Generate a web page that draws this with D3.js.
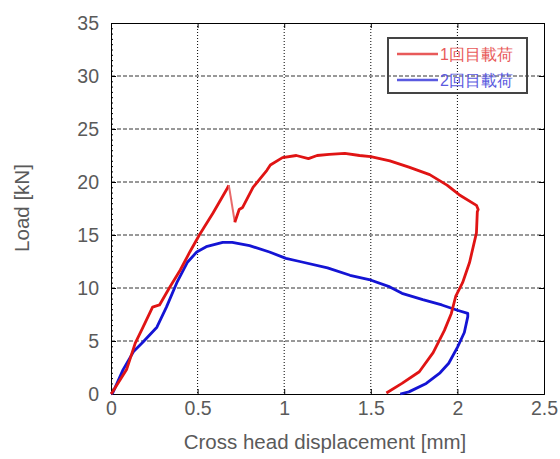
<!DOCTYPE html>
<html><head><meta charset="utf-8">
<script src="https://cdn.jsdelivr.net/npm/d3@7"></script>
<style>body{margin:0;background:#fff}svg{display:block}text{font-family:"Liberation Sans",Arial,sans-serif}</style>
</head><body><svg id="c" width="560" height="459"></svg>
<script>
const xTicks=[0,0.5,1,1.5,2,2.5];
const yTicks=[0,5,10,15,20,25,30,35];
const xTickLabels=["0","0.5","1","1.5","2","2.5"];
const yTickLabels=["0","5","10","15","20","25","30","35"];
const seriesNames=["1回目載荷","2回目載荷"];
// first loading: displacement [mm]
const load1X=[0,0.005,0.09,0.14,0.185,0.24,0.28,0.34,0.40,0.455,0.51,0.59,0.675,0.68];
const load1Y=[0,0.1,2.3,4.8,6.3,8.2,8.4,10.1,11.7,13.4,15.0,17.1,19.5,19.7];
// drop segment after first crack
const dropX=[0.68,0.715];
const dropY=[19.7,16.2];
const load1bX=[0.715,0.74,0.76,0.82,0.84,0.90,0.92,0.99,1.07,1.14,1.19,1.26,1.35,1.435,1.50,1.61,1.72,1.84,1.94,2.01,2.11,2.12,2.115,2.11,2.07,2.03,1.99,1.965,1.925,1.86,1.78,1.68,1.59];
const load1bY=[16.2,17.4,17.6,19.5,19.9,21.1,21.6,22.3,22.5,22.2,22.5,22.6,22.7,22.5,22.4,22.0,21.4,20.7,19.7,18.8,17.8,17.4,17.2,15.2,12.4,10.5,9.2,7.6,6.0,3.9,2.1,1.0,0.1];
// second loading
const load2X=[0,0.01,0.07,0.13,0.185,0.265,0.32,0.38,0.44,0.495,0.55,0.645,0.70,0.80,0.915,1.01,1.09,1.25,1.38,1.49,1.61,1.68,1.80,1.91,2.00,2.06,2.06,2.04,2.00,1.95,1.90,1.82,1.72,1.67];
const load2Y=[0,0.1,2.3,4.0,4.9,6.3,8.2,10.5,12.4,13.4,13.9,14.3,14.3,14.0,13.4,12.8,12.5,11.9,11.2,10.8,10.1,9.5,8.9,8.4,7.9,7.6,7.3,5.8,4.4,2.9,2.0,1.0,0.2,0.0];

const svg=d3.select("#c");
const L=111,R=544,T=23,B=394;
const x=d3.scaleLinear().domain([0,2.5]).range([L,R]);
const y=d3.scaleLinear().domain([0,35]).range([B,T]);
const grey="#5a5a5a";

// gridlines
svg.append("g").selectAll("line").data(yTicks.slice(1,-1)).join("line")
 .attr("x1",L).attr("x2",R).attr("y1",d=>y(d)).attr("y2",d=>y(d))
 .attr("stroke","#333").attr("stroke-width",1).attr("stroke-dasharray","4,2");
svg.append("g").selectAll("line").data(xTicks.slice(1,-1)).join("line")
 .attr("y1",T).attr("y2",B).attr("x1",d=>x(d)).attr("x2",d=>x(d))
 .attr("stroke","#000").attr("stroke-width",1).attr("stroke-dasharray","1,2");

// axes
const xa=svg.append("g").attr("transform",`translate(0,${B})`)
 .call(d3.axisBottom(x).tickValues(xTicks).tickFormat((d,i)=>xTickLabels[i]).tickSize(-5).tickPadding(7));
const ya=svg.append("g").attr("transform",`translate(${L},0)`)
 .call(d3.axisLeft(y).tickValues(yTicks).tickFormat((d,i)=>yTickLabels[i]).tickSize(-5).tickPadding(12));
svg.append("g").attr("transform",`translate(0,${T})`).call(d3.axisTop(x).tickValues(xTicks).tickFormat("").tickSize(-5));
svg.append("g").attr("transform",`translate(${R},0)`).call(d3.axisRight(y).tickValues(yTicks).tickFormat("").tickSize(-5));
// minor ticks on left
svg.append("g").attr("transform",`translate(${L},0)`).call(d3.axisLeft(y).ticks(70).tickFormat("").tickSize(-2));
svg.selectAll(".domain").attr("stroke","#000");
svg.selectAll(".tick line").attr("stroke","#000");
[xa,ya].forEach(a=>a.selectAll("text").attr("fill",grey).attr("font-size","19.5px"));

// curves
const line=d3.line().x(d=>x(d[0])).y(d=>y(d[1]));
const zip=(a,b)=>a.map((v,i)=>[v,b[i]]);
svg.append("path").datum(zip(load2X,load2Y)).attr("d",line).attr("fill","none")
 .attr("stroke","#1414d4").attr("stroke-width",2.8).attr("stroke-linejoin","round");
svg.append("path").datum(zip(load1X,load1Y)).attr("d",line).attr("fill","none")
 .attr("stroke","#e01414").attr("stroke-width",2.8).attr("stroke-linejoin","round");
svg.append("path").datum(zip(dropX,dropY)).attr("d",line).attr("fill","none")
 .attr("stroke","#e86a6a").attr("stroke-width",2);
svg.append("path").datum(zip(load1bX,load1bY)).attr("d",line).attr("fill","none")
 .attr("stroke","#e01414").attr("stroke-width",2.8).attr("stroke-linejoin","round");

// legend
const lg=svg.append("g");
lg.append("rect").attr("x",388).attr("y",38).attr("width",139).attr("height",55)
 .attr("fill","none").attr("stroke","#444").attr("stroke-width",2);
const lc=["#e85a5a","#5a5ae0"];
seriesNames.forEach((n,i)=>{
  const yy=54+i*26;
  lg.append("line").attr("x1",397).attr("x2",438).attr("y1",yy).attr("y2",yy).attr("stroke",lc[i]).attr("stroke-width",2.5);
  lg.append("text").attr("x",440).attr("y",yy+6).attr("fill",lc[i]).attr("font-size","16px")
   .attr("font-family","'Noto Sans CJK JP',sans-serif").text(n);
});

// titles
svg.append("text").attr("x",325).attr("y",449).attr("text-anchor","middle").attr("fill",grey)
 .attr("font-size","20.5px").text("Cross head displacement [mm]");
svg.append("text").attr("transform","translate(29,208) rotate(-90)").attr("text-anchor","middle").attr("fill",grey)
 .attr("font-size","20.5px").text("Load [kN]");
</script></body></html>
